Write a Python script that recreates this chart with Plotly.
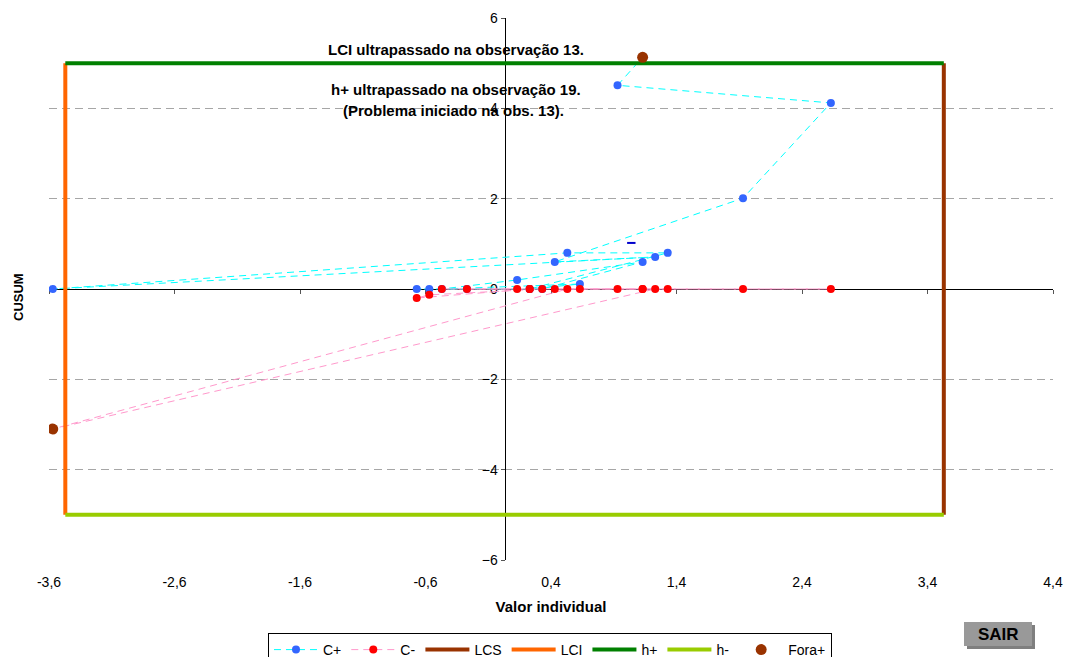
import plotly.graph_objects as go

# Observations in chronological order: individual value and CUSUM statistics
valor = [-0.27, 0.23, -0.67, -0.57, 0.33, 1.13, 0.13, -0.47, 0.63, 0.23,
         1.33, 0.53, -3.57, 1.23, 0.43, 1.93, 2.63, 0.93, 1.13]
c_mais = [0, 0, 0, 0, 0, 0.6, 0.2, 0, 0.11, 0,
          0.8, 0.8, 0, 0.71, 0.6, 2.01, 4.12, 4.51, 5.13]
c_menos = [0, 0, -0.2, -0.13, 0, 0, 0, 0, 0, 0,
           0, 0, -3.1, 0, 0, 0, 0, 0, 0]

# Control limits and decision interval
lcs = 3.53
lci = -3.47
h = 5.0

# Out-of-control points
fora_x = [1.13, -3.57]
fora_y = [5.13, -3.1]

# Stray marker near the C+ path
marca_x = [1.04]
marca_y = [1.02]

x_ticks = [-3.6, -2.6, -1.6, -0.6, 0.4, 1.4, 2.4, 3.4, 4.4]
x_ticktext = [f"{v:.1f}".replace(".", ",") for v in x_ticks]
y_ticks = [-6, -4, -2, 0, 2, 4, 6]
x_range = [-3.6, 4.4]
y_range = [-6, 6]
y_axis_cross = 0.03

W, H = 1069, 657
ML, MR, MT, MB = 49, 16, 18, 97
PW, PH = W - ML - MR, H - MT - MB


def px_x(p):
    return (p - ML) / PW


def px_y(p):
    return (H - MB - p) / PH


fig = go.Figure()

fig.add_trace(go.Scatter(
    x=valor, y=c_mais, name="C+", mode="lines+markers",
    line=dict(color="#00FFFF", width=1, dash="7px,5px"),
    marker=dict(color="#3366FF", size=8)))
fig.add_trace(go.Scatter(
    x=valor, y=c_menos, name="C-", mode="lines+markers",
    line=dict(color="#FF99CC", width=1, dash="7px,5px"),
    marker=dict(color="#FF0000", size=8)))
fig.add_trace(go.Scatter(
    x=[lcs, lcs], y=[-h, h], name="LCS", mode="lines",
    line=dict(color="#993300", width=4)))
fig.add_trace(go.Scatter(
    x=[lci, lci], y=[-h, h], name="LCI", mode="lines",
    line=dict(color="#FF6600", width=4)))
fig.add_trace(go.Scatter(
    x=[lci, lcs], y=[h, h], name="h+", mode="lines",
    line=dict(color="#008000", width=4)))
fig.add_trace(go.Scatter(
    x=[lci, lcs], y=[-h, -h], name="h-", mode="lines",
    line=dict(color="#99CC00", width=4)))
fig.add_trace(go.Scatter(
    x=fora_x, y=fora_y, name="Fora+", mode="markers",
    marker=dict(color="#993300", size=11)))
fig.add_trace(go.Scatter(
    x=marca_x, y=marca_y, xaxis="x2", mode="markers", showlegend=False,
    hoverinfo="skip",
    marker=dict(symbol="line-ew", size=6, line=dict(color="#0000CC", width=2))))

fig.update_layout(
    width=W, height=H,
    margin=dict(l=ML, r=MR, t=MT, b=MB, autoexpand=False),
    plot_bgcolor="white", paper_bgcolor="white",
    font=dict(family="Liberation Sans, Arial, sans-serif", size=14, color="black"),
    showlegend=True,
    legend=dict(
        orientation="h", x=0.499, xanchor="center", y=px_y(633), yanchor="top",
        bordercolor="black", borderwidth=1, bgcolor="white",
        font=dict(size=14), itemwidth=44, tracegroupgap=0,
    ),
    xaxis=dict(
        range=x_range, tickvals=x_ticks, ticktext=x_ticktext,
        showline=False, showgrid=False, zeroline=False, ticks="",
        ticklabelstandoff=12, tickfont=dict(size=14),
        title=dict(text="<b>Valor individual</b>", standoff=12,
                   font=dict(size=15)),
    ),
    xaxis2=dict(
        range=x_range, overlaying="x", anchor="free", position=0.5,
        tickvals=x_ticks, showticklabels=False, showgrid=False, zeroline=False,
        showline=True, linecolor="black", linewidth=1,
        ticks="outside", ticklen=4, tickcolor="#555555", layer="below traces",
    ),
    yaxis=dict(
        range=y_range, tickvals=y_ticks, anchor="free",
        position=(y_axis_cross - x_range[0]) / (x_range[1] - x_range[0]),
        showline=True, linecolor="black", linewidth=1,
        ticks="outside", ticklen=4, tickcolor="#555555",
        showgrid=True, gridcolor="#A6A6A6", griddash="8px,5px", gridwidth=1,
        zeroline=False, layer="below traces", tickfont=dict(size=14),
    ),
)


def texto(txt, x, y, size, angle=0):
    return dict(text=txt, x=px_x(x), y=px_y(y), xref="paper", yref="paper",
                xanchor="center", yanchor="middle", textangle=angle,
                showarrow=False, font=dict(size=size, color="black"))


annotations = [
    texto("<b>CUSUM</b>", 18, 297, 13, angle=-90),
    texto("<b>LCI ultrapassado na observação 13.</b>", 456, 49, 15),
    texto("<b>h+ ultrapassado na observação 19.</b>", 456, 90, 15),
    texto("<b>(Problema iniciado na obs. 13).</b>", 453, 110, 15),
    texto("<b>SAIR</b>", 998, 634, 17),
]
fig.update_layout(annotations=annotations)

# SAIR button with drop shadow
fig.add_shape(type="rect", xref="paper", yref="paper",
              x0=px_x(967), x1=px_x(1035), y0=px_y(649), y1=px_y(625),
              fillcolor="#7F7F7F", line=dict(width=0), layer="above")
fig.add_shape(type="rect", xref="paper", yref="paper",
              x0=px_x(964), x1=px_x(1032), y0=px_y(646), y1=px_y(622),
              fillcolor="#999999", line=dict(width=0), layer="above")

fig.write_html("out.html")
